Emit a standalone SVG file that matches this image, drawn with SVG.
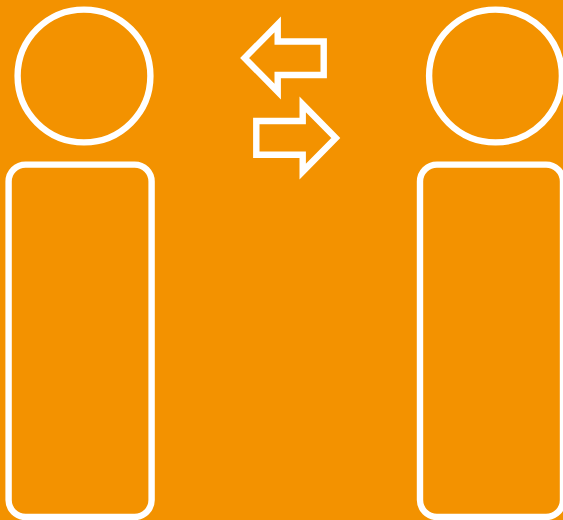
<svg xmlns="http://www.w3.org/2000/svg" width="563" height="520" viewBox="0 0 563 520">
  <style>
    .s { fill: none; stroke: #ffffff; stroke-width: 6.4; stroke-miterlimit: 10; }
  </style>
  <rect width="563" height="520" fill="#f39200"/>
  <g id="person-left">
    <circle class="s" cx="84" cy="76" r="66.4"/>
    <rect class="s" x="8.6" y="164.6" width="143" height="352.4" rx="17" ry="17"/>
  </g>
  <g id="person-right">
    <circle class="s" cx="495.5" cy="76" r="66.4"/>
    <rect class="s" x="420" y="164.6" width="143" height="352.4" rx="17" ry="17"/>
  </g>
  <g id="connectors">
    <path class="s" d="M244.6 58L277.7 24.4V41.5H323.7V75H277.7V91.6Z"/>
    <path class="s" d="M335.8 138L302.7 104.4V121H256.3V154.8H302.7V171.6Z"/>
  </g>
</svg>
